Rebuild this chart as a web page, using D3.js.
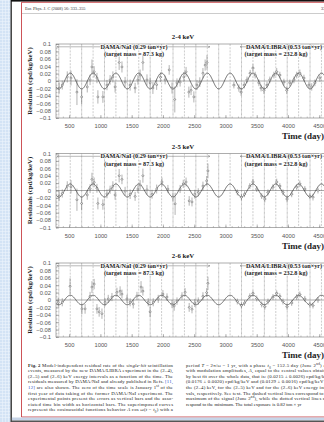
<!DOCTYPE html>
<html><head><meta charset="utf-8">
<script src="https://cdn.jsdelivr.net/npm/d3@7"></script>
<style>body{margin:0;background:#fff}svg{display:block}</style>
</head><body><script>
// residuals: [day, residual (cpd/kg/keV), error]
var nai24 = [[340,-0.019,0.015],[390,-0.011,0.012],[470,0.011,0.015],[530,0.008,0.02],[625,-0.03,0.035],[700,-0.043,0.02],[790,-0.016,0.015],[835,0.003,0.014],[865,0.038,0.02],[900,0.025,0.015],[945,0.008,0.014],[960,-0.043,0.018],[1040,-0.043,0.016],[1105,-0.011,0.014],[1155,0.003,0.013],[1200,0.011,0.015],[1235,-0.016,0.015],[1300,0.05,0.02],[1345,0.038,0.015],[1395,-0.003,0.014],[1475,-0.011,0.015],[1555,-0.019,0.014],[1600,0.003,0.013],[1635,0.016,0.015],[1680,0.05,0.022],[1745,0.003,0.015],[1795,-0.005,0.014],[1840,-0.019,0.016],[1900,-0.01,0.014],[1960,0.01,0.013],[2035,0.003,0.012],[2100,0.03,0.013],[2145,-0.019,0.015],[2190,-0.05,0.035],[2225,-0.005,0.012],[2275,-0.003,0.012],[2335,0.011,0.013],[2370,0.025,0.013],[2415,-0.03,0.015],[2450,-0.025,0.013],[2495,-0.043,0.015],[2545,-0.011,0.013],[2590,-0.003,0.013],[2640,0.021,0.014],[2675,0.043,0.015],[2705,0.05,0.02]];
var libra24 = [[3135,-0.011,0.009],[3215,-0.019,0.01],[3250,-0.03,0.01],[3300,-0.011,0.009],[3345,0.003,0.009],[3395,0.021,0.009],[3440,0.035,0.01],[3475,0.016,0.009],[3535,-0.005,0.009],[3570,-0.019,0.009],[3615,-0.025,0.01],[3665,-0.011,0.009],[3710,0.003,0.009],[3775,0.016,0.009],[3820,0.025,0.01],[3870,0.016,0.009],[3935,-0.003,0.009],[3980,-0.025,0.01],[4030,-0.005,0.009],[4095,0.003,0.009],[4140,0.016,0.009],[4190,0.021,0.01],[4255,0.008,0.009],[4335,-0.011,0.009],[4380,-0.016,0.01],[4430,-0.005,0.009],[4510,0.008,0.01]];
var nai25 = [[340,-0.015,0.013],[390,-0.008,0.011],[470,0.012,0.013],[530,0.01,0.018],[625,-0.025,0.03],[700,-0.035,0.018],[790,-0.012,0.013],[835,0.005,0.012],[865,0.03,0.018],[900,0.022,0.013],[945,0.006,0.012],[960,-0.035,0.016],[1040,-0.038,0.014],[1105,-0.009,0.012],[1155,0.002,0.011],[1200,0.012,0.013],[1235,-0.012,0.013],[1300,0.04,0.018],[1345,0.03,0.013],[1395,-0.002,0.012],[1475,-0.01,0.013],[1555,-0.016,0.012],[1600,0.004,0.011],[1635,0.015,0.013],[1680,0.04,0.019],[1745,0.002,0.013],[1826,-0.01,0.012],[1900,0.004,0.012],[1985,0.023,0.012],[2080,0.004,0.011],[2160,-0.018,0.012],[2195,-0.036,0.03],[2275,0.004,0.011],[2325,0.018,0.011],[2370,0.023,0.012],[2420,-0.028,0.013],[2465,-0.031,0.012],[2510,-0.01,0.012],[2565,-0.005,0.011],[2640,0.012,0.012],[2700,0.026,0.013],[2720,0.053,0.02]];
var libra25 = [[3190,-0.005,0.008],[3255,-0.018,0.009],[3305,-0.01,0.008],[3390,0.012,0.008],[3440,0.023,0.009],[3500,0.004,0.008],[3580,-0.015,0.008],[3630,-0.023,0.009],[3680,-0.005,0.008],[3760,0.009,0.008],[3820,0.023,0.009],[3870,0.012,0.008],[3920,-0.005,0.008],[3985,-0.023,0.009],[4060,-0.01,0.008],[4140,0.009,0.008],[4190,0.018,0.009],[4270,0.004,0.008],[4350,-0.015,0.008],[4400,-0.018,0.009],[4480,0,0.008]];
var nai26 = [[325,-0.006,0.012],[390,-0.006,0.011],[515,0.037,0.022],[705,-0.024,0.014],[755,-0.024,0.013],[835,0.01,0.012],[865,0.035,0.016],[900,0.043,0.014],[945,-0.024,0.013],[980,-0.032,0.013],[1025,-0.037,0.014],[1075,-0.006,0.011],[1125,0.003,0.011],[1185,0.008,0.011],[1265,0.021,0.012],[1315,0.024,0.013],[1345,0.016,0.012],[1425,0.003,0.011],[1475,-0.006,0.011],[1525,-0.011,0.012],[1585,0.011,0.011],[1650,0.035,0.016],[1680,0.024,0.012],[1765,-0.006,0.011],[1795,-0.032,0.014],[1845,-0.006,0.011],[1925,0.003,0.011],[2000,0.016,0.011],[2065,0.008,0.01],[2145,-0.011,0.011],[2180,-0.016,0.013],[2225,-0.003,0.01],[2305,0.011,0.01],[2355,0.021,0.011],[2420,-0.02,0.012],[2465,-0.025,0.011],[2510,-0.008,0.011],[2565,-0.003,0.01],[2640,0.01,0.011],[2700,0.02,0.012],[2720,0.045,0.018]];
var libra26 = [[3190,-0.004,0.008],[3255,-0.015,0.008],[3305,-0.008,0.008],[3390,0.01,0.008],[3440,0.018,0.008],[3500,0.004,0.008],[3580,-0.012,0.008],[3630,-0.018,0.008],[3680,-0.004,0.008],[3760,0.008,0.008],[3820,0.018,0.008],[3870,0.01,0.008],[3920,-0.004,0.008],[3985,-0.018,0.008],[4060,-0.008,0.008],[4140,0.008,0.008],[4190,0.015,0.008],[4270,0.003,0.008],[4350,-0.012,0.008],[4400,-0.015,0.008],[4480,0,0.008]];

var titles = ["2-4 keV","2-5 keV","2-6 keV"];
var amplitudes = [0.0215, 0.0176, 0.0129];   // cpd/kg/keV, from the caption
var phase = 152.5, period = 365.25;          // days
var naiBin = 20, libraBin = 25;              // half bin width, days
var xTicks = [500,1000,1500,2000,2500,3000,3500,4000,4500];
var yTicks = [0.1,0.08,0.06,0.04,0.02,0,-0.02,-0.04,-0.06,-0.08,-0.1];
var yTickLabels = ["0.1","0.08","0.06","0.04","0.02","0","\u22120.02","\u22120.04","\u22120.06","\u22120.08","\u22120.1"];

var W = 324, H = 422;
var serif = "Liberation Serif", sans = "Liberation Sans";
var svg = d3.select("body").append("svg").attr("width",W).attr("height",H);

// viewer chrome round the page
var strip = svg.append("g");
strip.append("rect").attr("x",0).attr("y",0).attr("width",10.5).attr("height",H).attr("fill","#d3e3f5");
for (var k = 0; k < 140; k++) {
	strip.append("line").attr("x1",0).attr("x2",10.5).attr("y1",k*3+0.5).attr("y2",k*3+0.5).attr("stroke","#edf4fc").attr("stroke-width",0.6);
}
[2.5,5.5,8.5].forEach(function(v){
	strip.append("line").attr("x1",v).attr("x2",v).attr("y1",0).attr("y2",H).attr("stroke","#edf4fc").attr("stroke-width",0.6);
});
svg.append("rect").attr("x",10.5).attr("y",0).attr("width",1.4).attr("height",H).attr("fill","#333");
svg.append("rect").attr("x",11).attr("y",0).attr("width",W).attr("height",1.6).attr("fill","#111");
svg.append("line").attr("x1",21.5).attr("x2",W).attr("y1",2.3).attr("y2",2.3).attr("stroke","#c0282d").attr("stroke-width",0.8);
svg.append("line").attr("x1",21.5).attr("x2",21.5).attr("y1",2.3).attr("y2",417).attr("stroke","#c0282d").attr("stroke-width",0.8);
svg.append("line").attr("x1",21.5).attr("x2",W).attr("y1",417).attr("y2",417).attr("stroke","#c0282d").attr("stroke-width",0.8);
svg.append("rect").attr("x",11.9).attr("y",417.5).attr("width",W).attr("height",3).attr("fill","#c7d5e8");
svg.append("rect").attr("x",11.9).attr("y",420.5).attr("width",W).attr("height",1.5).attr("fill","#555");

// running head
svg.append("text").attr("x",25).attr("y",10).attr("font-family",serif).attr("font-size",4.3).attr("fill","#333")
	.text("Eur. Phys. J. C (2008) 56: 333\u2013355");
svg.append("text").attr("x",321).attr("y",10).attr("font-family",serif).attr("font-size",4.3).attr("fill","#333").text("335");
svg.append("line").attr("x1",22).attr("x2",W).attr("y1",13.5).attr("y2",13.5).attr("stroke","#999").attr("stroke-width",0.5);

var defs = svg.append("defs");
defs.append("marker").attr("id","arrR").attr("viewBox","0 0 6 6").attr("refX",6).attr("refY",3)
	.attr("markerWidth",4).attr("markerHeight",4).attr("orient","auto")
	.append("path").attr("d","M0,0L6,3L0,6").attr("fill","none").attr("stroke","#777").attr("stroke-width",1);
defs.append("marker").attr("id","arrL").attr("viewBox","0 0 6 6").attr("refX",0).attr("refY",3)
	.attr("markerWidth",4).attr("markerHeight",4).attr("orient","auto")
	.append("path").attr("d","M6,0L0,3L6,6").attr("fill","none").attr("stroke","#777").attr("stroke-width",1);

var x = d3.scaleLinear().domain([290,4800]).range([56,338]);
var panelTop = [44, 153.5, 263], panelH = 74;
var naiSets = [nai24, nai25, nai26], libraSets = [libra24, libra25, libra26];

var maxima = d3.range(0, 13).map(function(n){ return phase + n*period; }).filter(function(d){ return d > 290; });
var minima = d3.range(0, 13).map(function(n){ return phase + period/2 + n*period; }).filter(function(d){ return d > 290; });

titles.forEach(function(title, p) {
	var top = panelTop[p];
	var y = d3.scaleLinear().domain([-0.1,0.1]).range([top+panelH, top]);
	var g = svg.append("g");

	defs.append("clipPath").attr("id","clip"+p).append("rect")
		.attr("x",56).attr("y",top).attr("width",282).attr("height",panelH);
	var plot = g.append("g").attr("clip-path","url(#clip"+p+")");

	plot.selectAll(".max").data(maxima).enter().append("line")
		.attr("x1",x).attr("x2",x).attr("y1",top).attr("y2",top+panelH)
		.attr("stroke","#9a9a9a").attr("stroke-width",0.5).attr("stroke-dasharray","2,1.2");
	plot.selectAll(".min").data(minima).enter().append("line")
		.attr("x1",x).attr("x2",x).attr("y1",top).attr("y2",top+panelH)
		.attr("stroke","#666").attr("stroke-width",0.5).attr("stroke-dasharray","0.8,0.5");

	plot.append("line").attr("x1",56).attr("x2",338).attr("y1",y(0)).attr("y2",y(0))
		.attr("stroke","#555").attr("stroke-width",0.5);

	var A = amplitudes[p];
	var line = d3.line()
		.x(function(t){ return x(t); })
		.y(function(t){ return y(A*Math.cos(2*Math.PI/period*(t - phase))); });
	plot.append("path").datum(d3.range(290, 4801, 5)).attr("d",line)
		.attr("fill","none").attr("stroke","#111").attr("stroke-width",0.6);

	function drawPoints(data, hw) {
		var pts = plot.append("g").selectAll("g").data(data).enter().append("g");
		pts.append("line").attr("x1",function(d){return x(d[0]);}).attr("x2",function(d){return x(d[0]);})
			.attr("y1",function(d){return y(d[1]-d[2]);}).attr("y2",function(d){return y(d[1]+d[2]);})
			.attr("stroke","#555").attr("stroke-width",0.45);
		pts.append("line").attr("x1",function(d){return x(d[0]-hw);}).attr("x2",function(d){return x(d[0]+hw);})
			.attr("y1",function(d){return y(d[1]);}).attr("y2",function(d){return y(d[1]);})
			.attr("stroke","#555").attr("stroke-width",0.45);
		pts.append("circle").attr("cx",function(d){return x(d[0]);}).attr("cy",function(d){return y(d[1]);})
			.attr("r",0.9).attr("fill","#fff").attr("stroke","#444").attr("stroke-width",0.4);
	}
	drawPoints(naiSets[p], naiBin);
	drawPoints(libraSets[p], libraBin);

	g.append("rect").attr("x",56).attr("y",top).attr("width",282).attr("height",panelH)
		.attr("fill","none").attr("stroke","#777").attr("stroke-width",0.6);

	var yAxis = d3.axisLeft(y).tickValues(yTicks).tickFormat(function(d,i){ return yTickLabels[i]; })
		.tickSize(-3).tickPadding(5);
	var ya = g.append("g").attr("transform","translate(56,0)").call(yAxis);
	ya.select(".domain").remove();
	ya.selectAll("line").attr("stroke","#777").attr("stroke-width",0.5);
	ya.selectAll("text").attr("font-family",sans).attr("font-size",5.8).attr("fill","#555");
	var yMinor = g.append("g").attr("transform","translate(56,0)")
		.call(d3.axisLeft(y).ticks(20).tickSize(-1.5).tickFormat(""));
	yMinor.select(".domain").remove();
	yMinor.selectAll("line").attr("stroke","#777").attr("stroke-width",0.4);

	var xAxis = d3.axisBottom(x).tickValues(xTicks).tickSize(-3).tickPadding(6).tickFormat(d3.format("d"));
	var xa = g.append("g").attr("transform","translate(0,"+(top+panelH)+")").call(xAxis);
	xa.select(".domain").remove();
	xa.selectAll("line").attr("stroke","#777").attr("stroke-width",0.5);
	xa.selectAll("text").attr("font-family",sans).attr("font-size",5.8).attr("fill","#555");
	var xMinor = g.append("g").attr("transform","translate(0,"+(top+panelH)+")")
		.call(d3.axisBottom(x).tickValues(d3.range(300,4801,100)).tickSize(-1.5).tickFormat(""));
	xMinor.select(".domain").remove();
	xMinor.selectAll("line").attr("stroke","#777").attr("stroke-width",0.4);

	g.append("text").attr("x",183).attr("y",top-5).attr("text-anchor","middle")
		.attr("font-family",serif).attr("font-weight","bold").attr("font-size",6.8).attr("fill","#222").text(title);

	g.append("text").attr("transform","translate(32,"+(top+panelH/2)+") rotate(-90)")
		.attr("text-anchor","middle").attr("font-family",serif).attr("font-weight","bold")
		.attr("font-size",6.8).attr("fill","#222").text("Residuals (cpd/kg/keV)");

	g.append("line").attr("x1",57).attr("x2",210).attr("y1",top+2.8).attr("y2",top+2.8)
		.attr("stroke","#888").attr("stroke-width",0.6)
		.attr("marker-start","url(#arrL)").attr("marker-end","url(#arrR)");
	g.append("line").attr("x1",240).attr("x2",338).attr("y1",top+2.8).attr("y2",top+2.8)
		.attr("stroke","#888").attr("stroke-width",0.6).attr("marker-start","url(#arrL)");

	function label(cx, cy, txt) {
		g.append("text").attr("x",cx).attr("y",cy).attr("text-anchor","middle")
			.attr("font-family",serif).attr("font-weight","bold").attr("font-size",6.2).attr("fill","#222")
			.attr("paint-order","stroke").attr("stroke","#fff").attr("stroke-width",1.2)
			.text(txt);
	}
	label(134, top+4.8, "DAMA/NaI (0.29 ton\u00d7yr)");
	label(134, top+12.3, "(target mass = 87.3 kg)");
	label(284, top+4.8, "DAMA/LIBRA (0.53 ton\u00d7yr)");
	label(276, top+12.3, "(target mass = 232.8 kg)");

	g.append("text").attr("x",282).attr("y",top+panelH+21).attr("font-family",serif).attr("font-weight","bold")
		.attr("font-size",9).attr("fill","#222").text("Time (day)");
});

// caption, two justified columns
var captionLeft = [
	[["Fig. 2","b"],["  Model-independent residual rate of the ",""],["single-hit","i"],[" scintillation",""]],
	[["events, measured by the new DAMA/LIBRA experiment in the (2\u20134),",""]],
	[["(2\u20135) and (2\u20136) keV energy intervals as a function of the time. The",""]],
	[["residuals measured by DAMA/NaI and already published in Refs. ",""],["[11,","l"]],
	[["12]","l"],[" are also shown. The zero of the time scale is January 1",""],["st","s"],[" of the",""]],
	[["first year of data taking of the former DAMA/NaI experiment. The",""]],
	[["experimental points present the errors as vertical bars and the asso-",""]],
	[["ciated time bin width as horizontal bars. The superimposed curves",""]],
	[["represent the cosinusoidal functions behavior ",""],["A","i"],[" cos ",""],["\u03c9","i"],["(",""],["t","i"],[" \u2212 ",""],["t","i"],["0","sub"],[") with a",""]]
];
var captionRight = [
	[["period ",""],["T","i"],[" = 2\u03c0/\u03c9 = 1 yr, with a phase ",""],["t","i"],["0","sub"],[" = 152.5 day (June 2",""],["nd","s"],[") and",""]],
	[["with modulation amplitudes, ",""],["A","i"],[", equal to the central values obtained",""]],
	[["by best fit over the whole data, that is: (0.0215 \u00b1 0.0026) cpd/kg/keV,",""]],
	[["(0.0176 \u00b1 0.0020) cpd/kg/keV and (0.0129 \u00b1 0.0016) cpd/kg/keV for",""]],
	[["the (2\u20134) keV, for the (2\u20135) keV and for the (2\u20136) keV energy inter-",""]],
	[["vals, respectively. See text. The dashed vertical lines correspond to the",""]],
	[["maximum of the signal (June 2",""],["nd","s"],["), while the dotted vertical lines cor-",""]],
	[["respond to the minimum. The total exposure is 0.82 ton \u00d7 yr",""]]
];
function captionLine(x0, y0, segs, justify) {
	var t = svg.append("text").attr("x",x0).attr("y",y0).attr("font-family",serif)
		.attr("font-size",4.8).attr("fill","#1a1a1a");
	if (justify) t.attr("textLength",145).attr("lengthAdjust","spacing");
	segs.forEach(function(s){
		var ts = t.append("tspan").text(s[0]);
		if (s[1]==="b") ts.attr("font-weight","bold");
		if (s[1]==="i") ts.attr("font-style","italic");
		if (s[1]==="l") ts.attr("fill","#2b4fc9");
		if (s[1]==="s") ts.attr("baseline-shift","super").attr("font-size",3.3);
		if (s[1]==="sub") ts.attr("baseline-shift","sub").attr("font-size",3.3);
	});
}
captionLeft.forEach(function(segs,i){ captionLine(28, 366.8 + i*5.55, segs, true); });
captionRight.forEach(function(segs,i){ captionLine(186, 366.8 + i*5.55, segs, i < captionRight.length-1); });
</script></body></html>
